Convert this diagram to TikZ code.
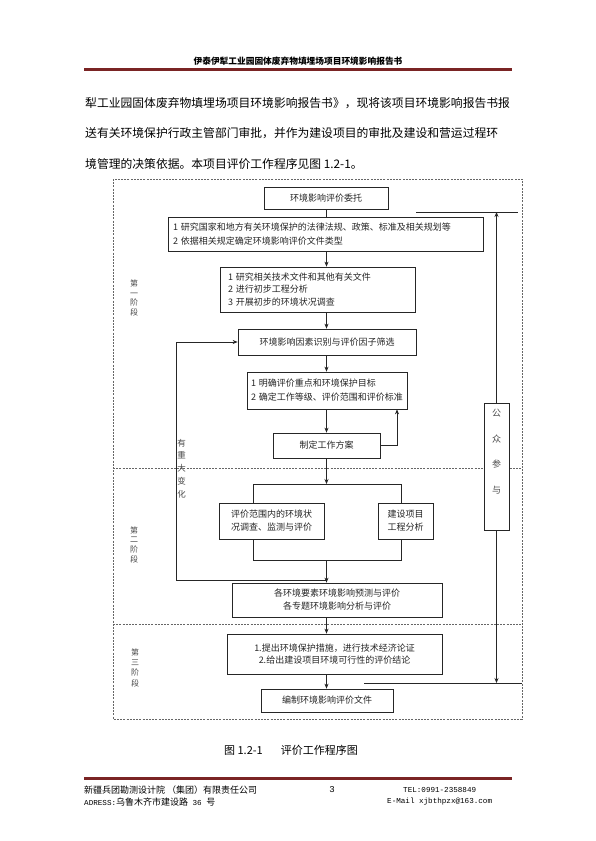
\documentclass[tikz,border=0pt]{standalone}
\usepackage{fontspec}
\setmainfont{Noto Sans CJK SC}
\newfontfamily\monof{Liberation Mono}
\usetikzlibrary{arrows.meta}
\XeTeXlinebreaklocale "zh"
\XeTeXlinebreakskip=0pt plus 2pt
\definecolor{rulered}{RGB}{122,36,36}

\begin{document}
\begin{tikzpicture}[x=1pt,y=-1pt,>={Stealth[length=5pt,width=4pt]},
  box/.style={draw=black!85,fill=white,line width=0.7pt,text=black!85,inner sep=2pt,
    font=\fontsize{9}{13}\selectfont,align=center},
  lbl/.style={text=black!70,inner sep=0pt,align=center},
  paraline/.style={anchor=west,inner sep=0pt,text width=425pt,align=justify,
    font=\fontsize{11.8}{14}\selectfont},
  conn/.style={black!85,line width=0.7pt},
  dashln/.style={gray!80!black,line width=0.5pt,dash pattern=on 2pt off 1.2pt}]
  \path[fill=white,use as bounding box] (0,0) rectangle (595,841);

  \node[font=\bfseries\fontsize{8.7}{10}\selectfont,inner sep=0pt] (hdr) at (298,61) {伊泰伊犁工业园固体废弃物填埋场项目环境影响报告书};
  \draw[rulered,line width=3.2pt] (84,69.5) -- (512,69.5);
  \node[paraline] (l1) at (85,103) {\parfillskip=0pt 犁工业园固体废弃物填埋场项目环境影响报告书》，现将该项目环境影响报告书报};
  \node[paraline] (l2) at (85,133.5) {\parfillskip=0pt 送有关环境保护行政主管部门审批，并作为建设项目的审批及建设和营运过程环};
  \node[paraline] (l3) at (85,164) {境管理的决策依据。本项目评价工作程序见图 1.2-1。};

  \draw[dashln] (113,179) rectangle (522,719);
  \draw[dashln] (113,468) -- (522,468);
  \draw[dashln] (113,624) -- (522,624);

  \node[box,minimum width=124pt,minimum height=22pt] (b1) at (326,198) {环境影响评价委托};
  \node[box,text width=305pt,inner xsep=5pt,minimum height=34pt,align=left,
    font=\fontsize{9}{14}\selectfont] (b2) at (325.5,234)
    {1 研究国家和地方有关环境保护的法律法规、政策、标准及相关规划等\\2 依据相关规定确定环境影响评价文件类型};
  \node[box,text width=179pt,inner xsep=8pt,minimum height=45pt,align=left,
    font=\fontsize{9}{12.5}\selectfont] (b3) at (317.5,289.5)
    {1 研究相关技术文件和其他有关文件\\2 进行初步工程分析\\3 开展初步的环境状况调查};
  \node[box,minimum width=178pt,minimum height=26pt] (b4) at (327,342) {环境影响因素识别与评价因子筛选};
  \node[box,text width=152pt,inner xsep=4pt,minimum height=37pt,align=left,
    font=\fontsize{9}{14}\selectfont] (b5) at (327,390.5)
    {1 明确评价重点和环境保护目标\\2 确定工作等级、评价范围和评价标准};
  \node[box,minimum width=107pt,minimum height=25pt] (b6) at (326.5,445.5) {制定工作方案};
  \node[box,minimum width=105pt,minimum height=36pt] (b7) at (271.5,521) {评价范围内的环境状\\况调查、监测与评价};
  \node[box,minimum width=55pt,minimum height=36pt] (b8) at (405.5,521) {建设项目\\工程分析};
  \node[box,minimum width=210pt,minimum height=34pt] (b9) at (337,600) {各环境要素环境影响预测与评价\\各专题环境影响分析与评价};
  \node[box,minimum width=215pt,minimum height=40pt,font=\fontsize{9}{12.5}\selectfont] (b10) at (334.5,654)
    {1.提出环境保护措施，进行技术经济论证\\2.给出建设项目环境可行性的评价结论};
  \node[box,minimum width=132pt,minimum height=23pt] (b11) at (327,700.5) {编制环境影响评价文件};
  \node[box,minimum width=25pt,minimum height=127pt] (pub) at (496.5,466.5) {};
  \node[lbl,font=\fontsize{9}{25.7}\selectfont] (pubtxt) at (496.5,451.5) {公\\众\\参\\与};

  \node[lbl,font=\fontsize{8}{9.4}\selectfont] (s1) at (134,298) {第\\一\\阶\\段};
  \node[lbl,font=\fontsize{8}{9.7}\selectfont] (s2) at (134,544.5) {第\\二\\阶\\段};
  \node[lbl,font=\fontsize{8}{10.3}\selectfont] (s3) at (135,667.5) {第\\三\\阶\\段};
  \node[lbl,font=\fontsize{8.5}{12.75}\selectfont] (chg) at (181.5,468.5) {有\\重\\大\\变\\化};

  \coordinate (spine) at (326.5,0);
  \coordinate (fbk) at (397,0);
  \coordinate (brl) at (253,484);
  \coordinate (brr) at (401,484);
  \coordinate (bbl) at (253,560);
  \coordinate (bbr) at (401,560);
  \coordinate (jn) at (326.5,580);
  \coordinate (turn) at (176,580);
  \coordinate (tl) at (416,212);
  \coordinate (tr) at (518,212);
  \coordinate (bl) at (364,683);
  \coordinate (br) at (522,683);

  \draw[conn] (b1.south -| spine) -- (b2.north -| spine);
  \draw[conn,->] (b2.south -| spine) -- (b3.north -| spine);
  \draw[conn,->] (b3.south -| spine) -- (b4.north -| spine);
  \draw[conn,->] (b4.south -| spine) -- (b5.north -| spine);
  \draw[conn,->] (b5.south -| spine) -- (b6.north -| spine);
  \draw[conn,->] (b6.east) -| (b5.south -| fbk);
  \draw[conn,->] (b6.south -| spine) -- (brl -| spine);
  \draw[conn] (b7.north -| brl) -- (brl) -- (brr) -- (b8.north -| brr);
  \draw[conn] (b7.south -| brl) -- (bbl) -- (bbr) -- (b8.south -| brr);
  \draw[conn,->] (bbl -| spine) -- (b9.north -| spine);
  \draw[conn,->] (jn) -- (turn) |- (b4.west);
  \draw[conn,->] (b9.south -| spine) -- (b10.north -| spine);
  \draw[conn,->] (b10.south -| spine) -- (b11.north -| spine);
  \draw[conn] (tl) -- (tr);
  \draw[conn,->] (pub.north) -- (pub.north |- tl);
  \draw[conn] (bl) -- (br);
  \draw[conn,->] (pub.south) -- (pub.south |- bl);

  \node[font=\fontsize{11}{13}\selectfont,inner sep=0pt] (cap) at (291,750) {图 1.2-1\hspace{18pt}评价工作程序图};
  \draw[rulered,line width=3.2pt] (84,778.5) -- (512,778.5);
  \node[anchor=west,inner sep=0pt,font=\fontsize{9}{10}\selectfont] (ft1) at (84,790) {新疆兵团勘测设计院 （集团）有限责任公司};
  \node[inner sep=0pt,font=\monof\fontsize{9}{10}\selectfont] (pg) at (332,790) {3};
  \node[anchor=west,inner sep=0pt,font=\monof\fontsize{7.6}{10}\selectfont] (tel) at (403,790) {TEL:0991-2358849};
  \node[anchor=west,inner sep=0pt,font=\fontsize{9}{10}\selectfont] (ft2) at (84,802)
    {{\monof\fontsize{7.6}{10}\selectfont ADRESS:}乌鲁木齐市建设路{\monof\fontsize{7.6}{10}\selectfont{} 36 }号};
  \node[anchor=west,inner sep=0pt,font=\monof\fontsize{7.6}{10}\selectfont] (mail) at (387,802) {E-Mail xjbthpzx@163.com};
\end{tikzpicture}
\end{document}
